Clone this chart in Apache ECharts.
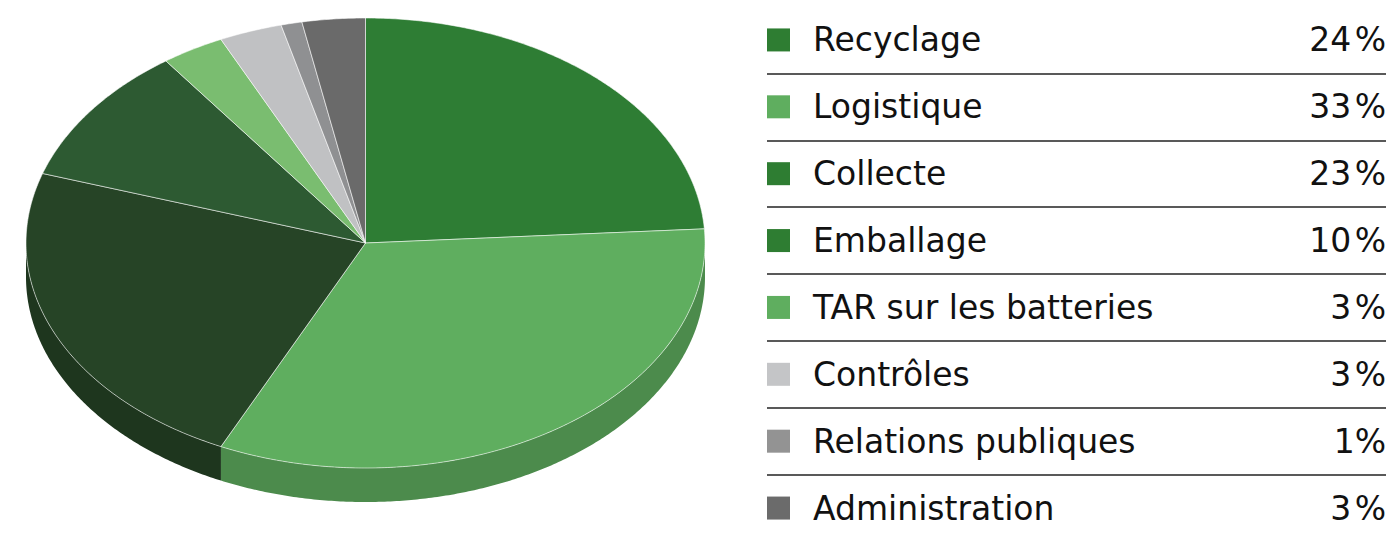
<!DOCTYPE html>
<html>
<head>
<meta charset="utf-8">
<script src="https://cdn.jsdelivr.net/npm/echarts@6/dist/echarts.min.js"></script>
<style>
  html, body { margin: 0; padding: 0; background: #fff; }
  #main { width: 1396px; height: 535px; }
</style>
</head>
<body>
<div id="main"></div>
<script>
// data
const names = ['Recyclage', 'Logistique', 'Collecte', 'Emballage', 'TAR sur les batteries', 'Contrôles', 'Relations publiques', 'Administration'];
const shares = [24, 33, 23, 10, 3, 3, 1, 3];
const pctLabels = ['24\u200a%', '33\u200a%', '23\u200a%', '10\u200a%', '3\u200a%', '3\u200a%', '1%', '3\u200a%'];

// colours: pie slices and the squares in the table are not the same
const sliceColors = ['#2e7d34', '#5fae5f', '#264426', '#2d5a32', '#7abd70', '#c0c1c3', '#8f9092', '#6a6a6a'];
const legendColors = ['#2e7d32', '#5fae5f', '#2e7d32', '#2e7d32', '#5fae5f', '#c4c5c7', '#939393', '#6b6b6b'];

// ellipse of the tilted pie
const pie = { cx: 365.5, cy: 243, rx: 339.5, ry: 225, depth: 34 };
const font = 'DejaVu Sans';

const total = shares.reduce((a, b) => a + b, 0);
const starts = [];
let acc = 0;
shares.forEach(v => { starts.push(acc); acc += v; });

function darken(hex, k) {
  const n = parseInt(hex.slice(1), 16);
  const r = Math.round(((n >> 16) & 255) * k);
  const g = Math.round(((n >> 8) & 255) * k);
  const b = Math.round((n & 255) * k);
  return 'rgb(' + r + ',' + g + ',' + b + ')';
}

// angle 0 = top, clockwise
function pt(t, dy) {
  return [pie.cx + pie.rx * Math.sin(t), pie.cy - pie.ry * Math.cos(t) + dy];
}
function arc(a0, a1, dy) {
  const n = Math.max(2, Math.ceil((a1 - a0) / (Math.PI / 360)));
  const out = [];
  for (let k = 0; k <= n; k++) out.push(pt(a0 + (a1 - a0) * k / n, dy));
  return out;
}

function renderSlice(params, api) {
  const i = params.dataIndex;
  const a0 = starts[i] / total * Math.PI * 2;
  const a1 = a0 + api.value(0) / total * Math.PI * 2;
  const children = [];
  // side wall only on the front half
  const f0 = Math.max(a0, Math.PI / 2);
  const f1 = Math.min(a1, Math.PI * 3 / 2);
  if (f1 > f0) {
    const top = arc(f0, f1, 0);
    const bottom = arc(f0, f1, pie.depth).reverse();
    children.push({
      type: 'polygon',
      z2: 1,
      shape: { points: top.concat(bottom) },
      style: { fill: darken(sliceColors[i], 0.8) }
    });
  }
  children.push({
    type: 'polygon',
    z2: 10,
    shape: { points: [[pie.cx, pie.cy]].concat(arc(a0, a1, 0)) },
    style: { fill: sliceColors[i], stroke: 'rgba(255,255,255,0.55)', lineWidth: 1, lineJoin: 'round' }
  });
  return { type: 'group', children: children };
}

const rich = {
  name: { fontFamily: font, fontSize: 33, color: '#111', padding: [0, 0, 0, 23] }
};
legendColors.forEach((c, i) => {
  rich['sq' + i] = { width: 23, height: 23, backgroundColor: c };
});

const chart = echarts.init(document.getElementById('main'), null, { renderer: 'svg' });

const option = {
  animation: false,
  grid: { left: 767, right: 10, top: 6.5, height: 535, outerBoundsMode: 'none', containLabel: false },
  xAxis: { type: 'value', show: false },
  yAxis: [
    {
      type: 'category',
      data: names,
      inverse: true,
      axisLine: { show: false },
      axisTick: { show: false },
      splitLine: {
        show: true,
        interval: (idx) => idx > 0,
        lineStyle: { color: '#222', width: 1.5 }
      },
      axisLabel: {
        inside: true,
        margin: 0,
        interval: 0,
        formatter: (v, idx) => '{sq' + idx + '|}{name|' + v + '}',
        rich: rich
      }
    },
    {
      type: 'category',
      position: 'right',
      data: names,
      inverse: true,
      axisLine: { show: false },
      axisTick: { show: false },
      splitLine: { show: false },
      axisLabel: {
        inside: true,
        margin: 0,
        interval: 0,
        fontFamily: font,
        fontSize: 33,
        color: '#111',
        formatter: (v, idx) => pctLabels[idx]
      }
    }
  ],
  series: [{
    type: 'custom',
    coordinateSystem: 'none',
    silent: true,
    data: shares,
    renderItem: renderSlice
  }]
};

chart.setOption(option);
</script>
</body>
</html>
